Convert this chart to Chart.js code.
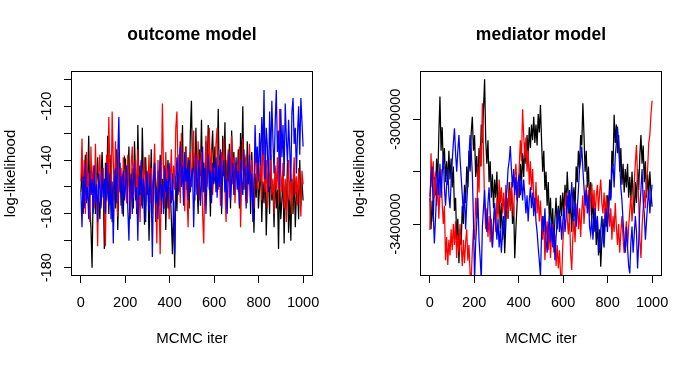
<!DOCTYPE html>
<html><head><meta charset="utf-8">
<script src="https://cdn.jsdelivr.net/npm/chart.js@4.4.1/dist/chart.umd.min.js"></script>
<style>
html,body{margin:0;padding:0;background:#fff;}
#wrap{position:relative;width:698px;height:365px;background:#fff;}
canvas{position:absolute;top:0;}
</style></head><body>
<div id="wrap">
<canvas id="c1" width="349" height="365" style="left:0"></canvas>
<canvas id="c2" width="349" height="365" style="left:349px"></canvas>
</div>
<script>
// ---- data (one value every ~5 MCMC iterations) ----
const nIter = 1000;
const xTicks = [0, 200, 400, 600, 800, 1000];

// outcome model log-likelihood, chain 1 (black)
const outcomeBlack = [
-152,-143,-160,-147,-138,-156,-149,-131,-158,-165,-180,-151,-142,-160,-148,-139,-155,-162,-146,-137,
-150,-173,-141,-155,-131,-160,-147,-138,-163,-152,-144,-158,-136,-166,-149,-141,-157,-145,-161,-139,
-140,-156,-148,-135,-162,-151,-143,-158,-133,-146,-160,-127,-150,-142,-157,-128,-148,-164,-139,-153,
-145,-170,-152,-136,-158,-148,-141,-163,-150,-144,-157,-138,-160,-147,-153,-142,-166,-149,-140,-158,
-150,-162,-175,-155,-180,-146,-159,-140,-152,-133,-147,-127,-156,-143,-135,-151,-139,-158,-130,-118,
-145,-137,-155,-128,-148,-160,-136,-146,-125,-152,-141,-157,-133,-149,-127,-144,-161,-138,-129,-147,
-135,-152,-142,-121,-150,-138,-160,-131,-146,-126,-155,-140,-148,-134,-158,-129,-145,-137,-153,-141,
-147,-136,-158,-130,-144,-120,-151,-139,-155,-133,-148,-142,-160,-137,-150,-167,-145,-154,-140,-158,
-150,-142,-163,-148,-156,-140,-168,-152,-145,-160,-138,-155,-149,-165,-143,-158,-151,-173,-147,-162,
-155,-145,-171,-150,-158,-141,-167,-152,-170,-147,-160,-143,-165,-153,-149,-162,-140,-157,-148,-155];
// chain 2 (red)
const outcomeRed = [
-148,-132,-155,-140,-160,-137,-150,-145,-163,-135,-153,-142,-158,-134,-150,-172,-145,-138,-157,-149,
-143,-160,-172,-138,-152,-124,-146,-157,-122,-140,-155,-133,-148,-161,-137,-151,-143,-158,-139,-150,
-145,-156,-138,-150,-161,-142,-135,-154,-147,-140,-158,-136,-149,-163,-141,-152,-146,-139,-157,-144,
-150,-138,-156,-143,-160,-147,-134,-152,-171,-140,-155,-175,-148,-119,-144,-158,-137,-150,-143,-162,
-148,-136,-155,-142,-151,-128,-122,-145,-138,-156,-130,-148,-141,-159,-135,-152,-165,-144,-137,-150,
-140,-129,-152,-138,-146,-133,-155,-142,-137,-160,-171,-145,-131,-150,-139,-128,-148,-136,-153,-143,
-146,-134,-128,-151,-140,-157,-137,-145,-132,-150,-163,-141,-136,-154,-145,-131,-149,-139,-156,-144,
-141,-152,-135,-165,-147,-132,-150,-143,-138,-156,-146,-134,-152,-140,-148,-158,-143,-136,-151,-145,
-148,-138,-155,-127,-146,-152,-140,-158,-144,-150,-136,-153,-147,-160,-142,-151,-139,-156,-121,-145,
-152,-141,-158,-147,-163,-150,-140,-155,-145,-160,-148,-139,-153,-146,-157,-143,-150,-161,-144,-149];
// chain 3 (blue)
const outcomeBlue = [
-152,-165,-146,-158,-141,-155,-150,-162,-144,-153,-147,-160,-142,-156,-149,-163,-145,-151,-158,-143,
-154,-147,-160,-141,-152,-157,-145,-162,-148,-171,-150,-143,-156,-139,-124,-152,-146,-160,-144,-155,
-149,-142,-158,-170,-151,-145,-160,-148,-141,-155,-150,-170,-146,-153,-140,-158,-147,-152,-163,-144,
-151,-159,-145,-153,-176,-148,-141,-156,-150,-162,-146,-140,-155,-149,-160,-143,-152,-147,-158,-141,
-150,-156,-145,-160,-175,-148,-139,-153,-144,-135,-150,-142,-157,-137,-148,-143,-155,-140,-152,-146,
-143,-165,-148,-138,-153,-145,-140,-157,-149,-135,-152,-143,-160,-146,-138,-151,-144,-156,-141,-149,
-146,-139,-154,-142,-150,-136,-158,-145,-140,-152,-147,-160,-143,-137,-155,-148,-141,-153,-146,-139,
-151,-144,-157,-140,-148,-153,-136,-146,-158,-142,-149,-138,-155,-145,-163,-150,-127,-141,-135,-148,
-130,-142,-124,-138,-114,-147,-128,-135,-152,-122,-140,-118,-133,-145,-126,-114,-137,-129,-150,-121,
-139,-127,-146,-119,-132,-141,-125,-136,-148,-122,-117,-134,-128,-145,-130,-120,-138,-117,-126,-135];

// mediator model log-likelihood, chain 1 (black)
const mediatorBlack = [
-3300e3,-3420e3,-3310e3,-3390e3,-3220e3,-3290e3,-3150e3,-3240e3,-3060e3,-2913e3,-3120e3,-3030e3,-3180e3,-3110e3,-3240e3,-3160e3,-3250e3,-3120e3,-3230e3,-3150e3,
-3260e3,-3180e3,-3350e3,-3300e3,-3460e3,-3380e3,-3550e3,-3420e3,-3480e3,-3330e3,-3400e3,-3250e3,-3320e3,-3180e3,-3260e3,-3120e3,-3200e3,-3050e3,-2990e3,-3120e3,
-3060e3,-3220e3,-3140e3,-3260e3,-3110e3,-3180e3,-3020e3,-3090e3,-2960e3,-2847e3,-3080e3,-3170e3,-3080e3,-3240e3,-3160e3,-3300e3,-3210e3,-3340e3,-3230e3,-3300e3,
-3200e3,-3360e3,-3280e3,-3420e3,-3320e3,-3460e3,-3370e3,-3512e3,-3400e3,-3300e3,-3380e3,-3240e3,-3330e3,-3260e3,-3400e3,-3330e3,-3531e3,-3420e3,-3330e3,-3240e3,
-3300e3,-3170e3,-3250e3,-3130e3,-3220e3,-3090e3,-3170e3,-3060e3,-3140e3,-3030e3,-3110e3,-3020e3,-3080e3,-2990e3,-3090e3,-3020e3,-3100e3,-2980e3,-3050e3,-2945e3,
-3080e3,-3200e3,-3120e3,-3270e3,-3200e3,-3330e3,-3240e3,-3390e3,-3300e3,-3440e3,-3340e3,-3487e3,-3380e3,-3300e3,-3420e3,-3330e3,-3400e3,-3290e3,-3370e3,-3280e3,
-3360e3,-3250e3,-3330e3,-3200e3,-3300e3,-3380e3,-3290e3,-3430e3,-3330e3,-3260e3,-3340e3,-3180e3,-3240e3,-3120e3,-3190e3,-3060e3,-3100e3,-2939e3,-3060e3,-3200e3,
-3120e3,-3260e3,-3180e3,-3320e3,-3240e3,-3380e3,-3290e3,-3430e3,-3350e3,-3480e3,-3390e3,-3520e3,-3420e3,-3563e3,-3460e3,-3380e3,-3470e3,-3340e3,-3410e3,-3290e3,
-3350e3,-3230e3,-3300e3,-3120e3,-3180e3,-2983e3,-3090e3,-3020e3,-3130e3,-3060e3,-3200e3,-3110e3,-3250e3,-3170e3,-3280e3,-3190e3,-3260e3,-3170e3,-3300e3,-3220e3,
-3310e3,-3200e3,-3290e3,-3360e3,-3240e3,-3320e3,-3190e3,-3270e3,-3140e3,-3060e3,-3170e3,-3100e3,-3240e3,-3160e3,-3300e3,-3210e3,-3290e3,-3200e3,-3280e3,-3334e3];
// chain 2 (red)
const mediatorRed = [
-3423e3,-3130e3,-3260e3,-3160e3,-3300e3,-3200e3,-3330e3,-3240e3,-3380e3,-3270e3,-3190e3,-3320e3,-3400e3,-3330e3,-3538e3,-3450e3,-3557e3,-3460e3,-3520e3,-3420e3,
-3500e3,-3400e3,-3480e3,-3390e3,-3530e3,-3440e3,-3510e3,-3400e3,-3480e3,-3560e3,-3460e3,-3550e3,-3470e3,-3420e3,-3540e3,-3480e3,-3590e3,-3610e3,-3500e3,-3420e3,
-3460e3,-3300e3,-3380e3,-3180e3,-3280e3,-3100e3,-3180e3,-2939e3,-3120e3,-3330e3,-3420e3,-3340e3,-3450e3,-3370e3,-3470e3,-3380e3,-3490e3,-3400e3,-3340e3,-3430e3,
-3300e3,-3380e3,-3230e3,-3320e3,-3260e3,-3360e3,-3280e3,-3380e3,-3250e3,-3330e3,-3380e3,-3270e3,-3350e3,-3240e3,-3320e3,-3370e3,-3220e3,-3170e3,-3260e3,-3300e3,
-3180e3,-3080e3,-3160e3,-2962e3,-3060e3,-3150e3,-3070e3,-3200e3,-3120e3,-3250e3,-3160e3,-3270e3,-3190e3,-3300e3,-3350e3,-3240e3,-3360e3,-3290e3,-3390e3,-3310e3,
-3400e3,-3460e3,-3370e3,-3538e3,-3440e3,-3390e3,-3500e3,-3410e3,-3530e3,-3440e3,-3400e3,-3510e3,-3440e3,-3560e3,-3480e3,-3570e3,-3500e3,-3590e3,-3620e3,-3480e3,
-3400e3,-3330e3,-3280e3,-3380e3,-3440e3,-3360e3,-3510e3,-3576e3,-3450e3,-3380e3,-3470e3,-3360e3,-3320e3,-3420e3,-3340e3,-3450e3,-3350e3,-3290e3,-3400e3,-3320e3,
-3250e3,-3340e3,-3270e3,-3370e3,-3290e3,-3245e3,-3340e3,-3270e3,-3372e3,-3290e3,-3250e3,-3350e3,-3280e3,-3230e3,-3320e3,-3360e3,-3280e3,-3370e3,-3290e3,-3390e3,
-3320e3,-3410e3,-3340e3,-3460e3,-3370e3,-3430e3,-3320e3,-3410e3,-3480e3,-3400e3,-3510e3,-3430e3,-3370e3,-3460e3,-3512e3,-3440e3,-3390e3,-3490e3,-3410e3,-3350e3,
-3290e3,-3390e3,-3310e3,-3240e3,-3170e3,-3098e3,-3220e3,-3310e3,-3460e3,-3530e3,-3410e3,-3340e3,-3270e3,-3340e3,-3240e3,-3190e3,-3090e3,-3060e3,-2980e3,-2929e3];
// chain 3 (blue)
const mediatorBlue = [
-3296e3,-3220e3,-3180e3,-3360e3,-3474e3,-3380e3,-3280e3,-3200e3,-3290e3,-3170e3,-3300e3,-3210e3,-3140e3,-3260e3,-3330e3,-3250e3,-3190e3,-3290e3,-3340e3,-3240e3,
-3160e3,-3090e3,-3034e3,-3130e3,-3200e3,-3120e3,-3060e3,-3150e3,-3220e3,-3290e3,-3360e3,-3280e3,-3420e3,-3320e3,-3240e3,-3140e3,-3060e3,-3120e3,-3210e3,-3380e3,
-3620e3,-3470e3,-3390e3,-3300e3,-3460e3,-3530e3,-3610e3,-3410e3,-3340e3,-3270e3,-3370e3,-3430e3,-3320e3,-3260e3,-3360e3,-3430e3,-3490e3,-3390e3,-3320e3,-3390e3,
-3460e3,-3380e3,-3490e3,-3420e3,-3510e3,-3440e3,-3370e3,-3440e3,-3320e3,-3270e3,-3190e3,-3160e3,-3102e3,-3190e3,-3260e3,-3190e3,-3290e3,-3220e3,-3310e3,-3240e3,
-3210e3,-3290e3,-3230e3,-3310e3,-3230e3,-3290e3,-3360e3,-3290e3,-3390e3,-3310e3,-3260e3,-3340e3,-3280e3,-3370e3,-3300e3,-3390e3,-3430e3,-3490e3,-3540e3,-3600e3,
-3440e3,-3370e3,-3430e3,-3340e3,-3460e3,-3510e3,-3420e3,-3370e3,-3470e3,-3390e3,-3490e3,-3410e3,-3538e3,-3450e3,-3390e3,-3340e3,-3430e3,-3370e3,-3460e3,-3390e3,
-3340e3,-3430e3,-3370e3,-3290e3,-3360e3,-3270e3,-3340e3,-3240e3,-3310e3,-3390e3,-3320e3,-3410e3,-3340e3,-3270e3,-3190e3,-3160e3,-3104e3,-3190e3,-3260e3,-3330e3,
-3270e3,-3360e3,-3290e3,-3410e3,-3440e3,-3370e3,-3460e3,-3390e3,-3340e3,-3430e3,-3370e3,-3460e3,-3510e3,-3420e3,-3370e3,-3460e3,-3490e3,-3390e3,-3340e3,-3430e3,
-3340e3,-3270e3,-3310e3,-3210e3,-3170e3,-3260e3,-3140e3,-3090e3,-3028e3,-3090e3,-3160e3,-3260e3,-3310e3,-3390e3,-3460e3,-3510e3,-3410e3,-3490e3,-3560e3,-3589e3,
-3470e3,-3410e3,-3510e3,-3440e3,-3370e3,-3430e3,-3570e3,-3470e3,-3340e3,-3270e3,-3190e3,-3310e3,-3360e3,-3460e3,-3390e3,-3320e3,-3270e3,-3360e3,-3290e3,-3250e3];

const outcomeYTicks = [-180, -170, -160, -150, -140, -130, -120, -110];
const outcomeYLabels = [-180, -160, -140, -120];
const mediatorYTicks = [-3400000, -3200000, -3000000];
const mediatorYLabels = [-3400000, -3000000];

// ---- drawing ----
const FONT = "'Liberation Sans', Arial, Helvetica, sans-serif";
const boxPlugin = {
  id: 'rbox',
  afterDatasetsDraw(chart) {
    const {ctx, chartArea: a} = chart;
    ctx.save();
    ctx.strokeStyle = '#000';
    ctx.lineWidth = 1;
    ctx.strokeRect(a.left - 0.5, a.top - 0.5, a.right - a.left + 1, a.bottom - a.top + 1);
    ctx.restore();
  }
};

function toPoints(vals) {
  // iteration index of each stored sample (1..1000)
  return vals.map((v, i) => ({x: 1 + i * (nIter - 1) / (vals.length - 1), y: v}));
}

function makeChart(id, title, black, red, blue, yMin, yMax, yStep, yLabels, yTickPad) {
  return new Chart(document.getElementById(id), {
    type: 'line',
    data: {
      datasets: [
        {data: toPoints(black), borderColor: '#000000', order: 3},
        {data: toPoints(red), borderColor: '#ff0000', order: 2},
        {data: toPoints(blue), borderColor: '#0000ff', order: 1}
      ]
    },
    options: {
      responsive: false,
      devicePixelRatio: 1,
      animation: false,
      events: [],
      layout: {padding: {left: 0, right: 37, top: 0, bottom: 0}},
      elements: {
        line: {borderWidth: 1.25, tension: 0},
        point: {radius: 0}
      },
      plugins: {
        legend: {display: false},
        tooltip: {enabled: false},
        title: {
          display: true, text: title, fullSize: false, color: '#000',
          font: {family: FONT, size: 17.5, weight: 'bold', lineHeight: 1.2},
          padding: {top: 24.8, bottom: 26.2}
        }
      },
      scales: {
        x: {
          type: 'linear', min: -39, max: 1040,
          afterFit(s) { s.height = 90; },
          afterBuildTicks(s) { s.ticks = xTicks.map(v => ({value: v})); },
          grid: {drawOnChartArea: false, drawTicks: true, tickLength: 8, color: '#000', lineWidth: 1},
          border: {display: false},
          ticks: {
            autoSkip: false, maxRotation: 0, color: '#000', padding: 11,
            font: {family: FONT, size: 14.5, lineHeight: 1.2},
            callback: v => String(v)
          },
          title: {
            display: true, text: 'MCMC iter', color: '#000',
            font: {family: FONT, size: 15, lineHeight: 1.2},
            padding: {top: 0, bottom: 17.5}
          }
        },
        y: {
          type: 'linear', min: yMin, max: yMax,
          afterFit(s) { s.width = 72; },
          afterBuildTicks(s) { s.ticks = yStep.map(v => ({value: v})); },
          grid: {drawOnChartArea: false, drawTicks: true, tickLength: 8, color: '#000', lineWidth: 1},
          border: {display: false},
          ticks: {
            autoSkip: false, minRotation: 90, maxRotation: 90, crossAlign: 'center',
            color: '#000', padding: yTickPad,
            font: {family: FONT, size: 14.5, lineHeight: 1.2},
            callback: v => (yLabels.includes(v) ? String(v) : '')
          },
          title: {
            display: true, text: 'log-likelihood', color: '#000',
            font: {family: FONT, size: 15, lineHeight: 1.2},
            padding: {top: 2, bottom: 0}
          }
        }
      }
    },
    plugins: [boxPlugin]
  });
}

makeChart('c1', 'outcome model', outcomeBlack, outcomeRed, outcomeBlue,
  -182.7, -107.3, outcomeYTicks, outcomeYLabels, 2);
makeChart('c2', 'mediator model', mediatorBlack, mediatorRed, mediatorBlue,
  -3594842, -2819293, mediatorYTicks, mediatorYLabels, -14);
</script>
</body></html>
